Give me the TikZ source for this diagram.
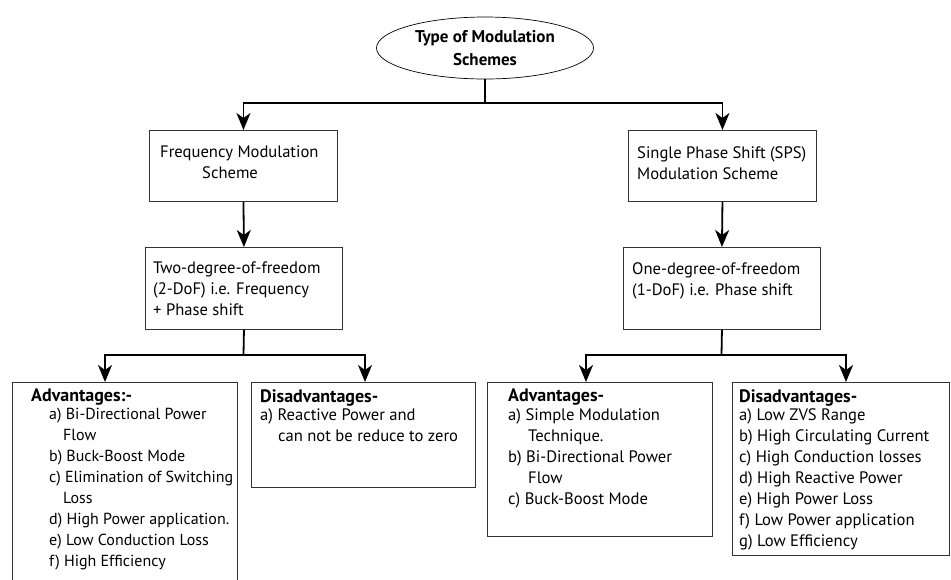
\documentclass[tikz,border=0pt]{standalone}
\usepackage{fontspec}
\setmainfont{PT Sans}
\usetikzlibrary{arrows.meta,shapes.geometric}
\begin{document}
\begin{tikzpicture}[x=1pt,y=-1pt,
  box/.style={draw=black!80, line width=0.9pt, rectangle, inner sep=0pt, anchor=north west},
  conn/.style={line width=1.8pt, -{Stealth[length=17pt,width=14pt,inset=5pt]}},
  link/.style={line width=1.8pt},
  txt/.style={anchor=north west, inner sep=0pt, align=left, font=\fontsize{16.6}{21}\selectfont},
  head/.style={anchor=north west, inner sep=0pt, align=left, font=\fontsize{18}{21}\selectfont\bfseries},
]
\useasboundingbox (0,0) rectangle (951,579);
\clip (0,0) rectangle (951,579);

% title
\node[draw, ellipse, line width=0.7pt, minimum width=217pt, minimum height=62pt, inner sep=0pt,
      align=center, font=\fontsize{17}{23}\selectfont\bfseries] (title) at (485,48)
      {Type of Modulation\\Schemes};

% boxes
\node[box, minimum width=188pt, minimum height=71pt] (fm) at (149,130) {};
\node[box, minimum width=188pt, minimum height=71pt] (sps) at (628,130) {};
\node[box, minimum width=197pt, minimum height=82pt] (dof2) at (145,247) {};
\node[box, minimum width=197pt, minimum height=82pt] (dof1) at (623,247) {};
\node[box, minimum width=225pt, minimum height=230pt] (adv1) at (12,382) {};
\node[box, minimum width=224pt, minimum height=105pt] (dis1) at (251,382) {};
\node[box, minimum width=225pt, minimum height=154pt] (adv2) at (487,382) {};
\node[box, minimum width=217pt, minimum height=173pt] (dis2) at (732,382) {};

% texts
\node[txt] (fmtxt) at (160,146) {Frequency Modulation\\\hspace*{42pt}Scheme};
\node[txt] (spstxt) at (637,146) {Single Phase Shift (SPS)\\Modulation Scheme};
\node[txt] (dof2txt) at (153,262) {Two-degree-of-freedom\\(2-DoF) i.e. Frequency\\+ Phase shift};
\node[txt] (dof1txt) at (632,262) {One-degree-of-freedom\\(1-DoF) i.e. Phase shift};

\node[head] (adv1h) at (31,389) {Advantages:-};
\node[txt, font=\fontsize{16}{21}\selectfont] (adv1txt) at (49,408) {a) Bi-Directional Power\\\hspace*{14pt}Flow\\b) Buck-Boost Mode\\c) Elimination of Switching\\\hspace*{14pt}Loss\\d) High Power application.\\e) Low Conduction Loss\\f) High Efficiency};

\node[head] (dis1h) at (260,389) {Disadvantages-};
\node[txt] (dis1txt) at (260,408) {a) Reactive Power and\\\hspace*{18pt}can not be reduce to zero};

\node[head] (adv2h) at (508,389) {Advantages-};
\node[txt] (adv2txt) at (508,408) {a) Simple Modulation\\\hspace*{20pt}Technique.\\b) Bi-Directional Power\\\hspace*{20pt}Flow\\c) Buck-Boost Mode};

\node[head] (dis2h) at (739,389) {Disadvantages-};
\node[txt] (dis2txt) at (739,408) {a) Low ZVS Range\\b) High Circulating Current\\c) High Conduction losses\\d) High Reactive Power\\e) High Power Loss\\f) Low Power application\\g) Low Efficiency};

% junctions
\coordinate (j1) at (485,103);
\coordinate (j2) at (243.5,355);
\coordinate (j3) at (721.5,355);
\coordinate (t1) at (105,382);
\coordinate (t2) at (365,382);
\coordinate (t3) at (586,382);
\coordinate (t4) at (846,382);

% connectors
\draw[link] (title.south) -- (j1);
\draw[conn] (j1) -| (fm.north);
\draw[conn] (j1) -| (sps.north);
\draw[conn] (fm.south) -- (dof2.north);
\draw[conn] (sps.south) -- (dof1.north);
\draw[link] (dof2.south) -- (j2);
\draw[conn] (j2) -| (t1);
\draw[conn] (j2) -| (t2);
\draw[link] (dof1.south) -- (j3);
\draw[conn] (j3) -| (t3);
\draw[conn] (j3) -| (t4);
\end{tikzpicture}
\end{document}
